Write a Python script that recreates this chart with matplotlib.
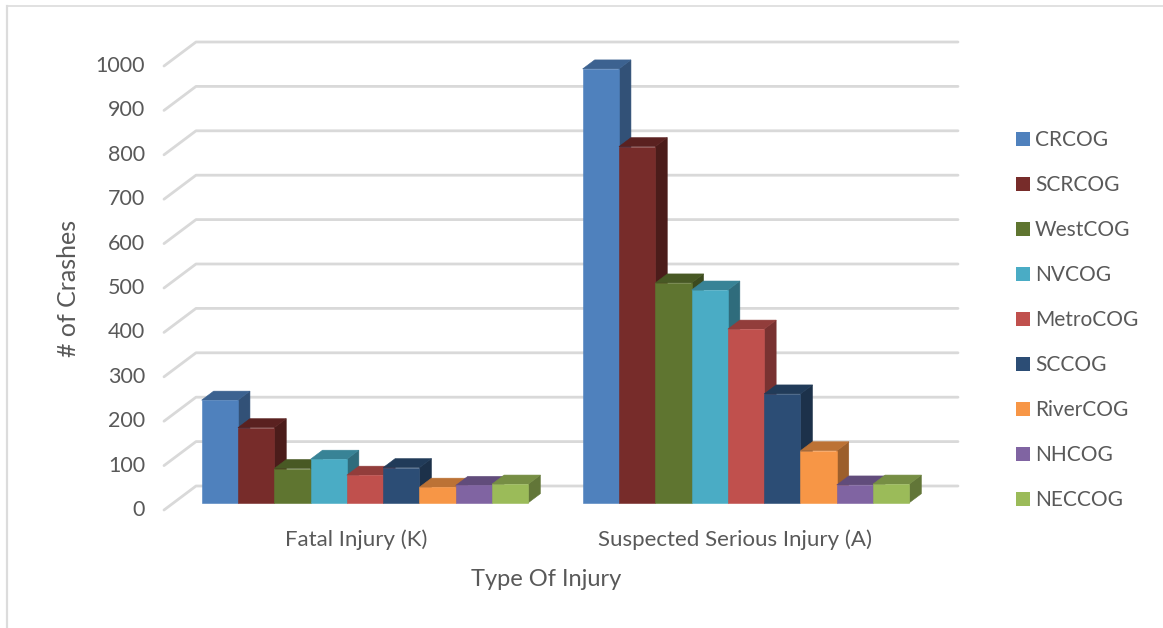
import numpy as np
import matplotlib
matplotlib.use('Agg')
import matplotlib.pyplot as plt
from matplotlib.colors import to_rgb
from matplotlib.lines import Line2D
from matplotlib.patches import Patch, Polygon

plt.rcParams['font.family'] = ['Lato', 'DejaVu Sans']

categories = ['Fatal Injury (K)', 'Suspected Serious Injury (A)']
series = ['CRCOG', 'SCRCOG', 'WestCOG', 'NVCOG', 'MetroCOG',
          'SCCOG', 'RiverCOG', 'NHCOG', 'NECCOG']
fatal = [231, 169, 77, 98, 62, 79, 35, 39, 42]
serious = [977, 802, 495, 479, 391, 245, 117, 40, 42]
yticks = [0, 100, 200, 300, 400, 500, 600, 700, 800, 900, 1000]
colors = ['#4F81BD', '#772C2A', '#5F7530', '#4AACC5', '#C0504D',
          '#2C4D75', '#F79646', '#8064A2', '#9BBB59']

W, H = 1163, 628
TEXT = '#595959'
GRID = '#d9d9d9'

# pixel layout of the Excel 3D chart
PX_PER_CAT = 381.0
PX_PER_VAL = 0.444
CAT0_PX = 365.0
BASE_PX = 502.7
BAR_W = 36.3 / PX_PER_CAT
DEPTH_X = 12 / PX_PER_CAT
DEPTH_Y = 9 / PX_PER_VAL


def x_of(px):
    return (px - CAT0_PX) / PX_PER_CAT


def y_of(py):
    return (BASE_PX - py) / PX_PER_VAL


fig = plt.figure(figsize=(W / 100, H / 100), dpi=100)
ax = fig.add_axes([0, 0, 1, 1])
ax.set_xlim(x_of(0), x_of(W))
ax.set_ylim(y_of(H), y_of(0))
ax.axis('off')

# outer chart frame, only top and left survive the crop
ax.add_line(Line2D([x_of(7), x_of(W)], [y_of(6), y_of(6)], color='#dcdcdc', lw=1.2))
ax.add_line(Line2D([x_of(7), x_of(7)], [y_of(6), y_of(H)], color='#dcdcdc', lw=1.6))

# back wall gridlines and the slanted side wall
back_x0, back_x1, front_x = x_of(196), x_of(958), x_of(164)
back_off = y_of(486)
front_off = y_of(510)
for v in yticks:
    ax.plot([front_x, back_x0, back_x1],
            [v + front_off, v + back_off, v + back_off],
            color=GRID, lw=2.0, solid_capstyle='round', solid_joinstyle='round', zorder=1)
    ax.text(x_of(145), v + y_of(508), str(v), ha='right', va='center_baseline',
            fontsize=15.5, color=TEXT)

# bars, left to right so each one covers its neighbour's side face
z = 2
for i, values in enumerate([fatal, serious]):
    for j, (val, col) in enumerate(zip(values, colors)):
        left = i + (j - len(series) / 2) * BAR_W
        right = left + BAR_W
        rgb = np.array(to_rgb(col))
        side = [(right, 0), (right + DEPTH_X, DEPTH_Y),
                (right + DEPTH_X, val + DEPTH_Y), (right, val)]
        top = [(left, val), (right, val),
               (right + DEPTH_X, val + DEPTH_Y), (left + DEPTH_X, val + DEPTH_Y)]
        front = [(left, 0), (right, 0), (right, val), (left, val)]
        for pts, shade in [(side, 0.63), (top, 0.76), (front, 1.0)]:
            c = tuple(rgb * shade)
            ax.add_patch(Polygon(pts, closed=True, facecolor=c, edgecolor=c, lw=0.4, zorder=z))
        z += 1

for i, cat in enumerate(categories):
    ax.text(x_of([356, 735.5][i]), y_of(540), cat, ha='center', va='center',
            fontsize=16, color=TEXT)

ax.text(x_of(546), y_of(579), 'Type Of Injury', ha='center', va='center',
        fontsize=17, color=TEXT)
ax.text(x_of(69), y_of(288), '# of Crashes', ha='center', va='center',
        rotation=90, fontsize=18, color=TEXT)

handles = [Patch(facecolor=c, edgecolor='none', label=s) for s, c in zip(series, colors)]
fs = 15
fs_px = fs * 100 / 72
ax.legend(handles=handles, loc='center left', bbox_to_anchor=(1016 / W, 1 - 320 / H),
          bbox_transform=fig.transFigure, frameon=False, fontsize=fs,
          labelcolor=TEXT, borderpad=0, borderaxespad=0,
          handlelength=14 / fs_px, handleheight=14 / fs_px,
          handletextpad=5 / fs_px, labelspacing=1.2)

fig.savefig('out.png', dpi=100)
